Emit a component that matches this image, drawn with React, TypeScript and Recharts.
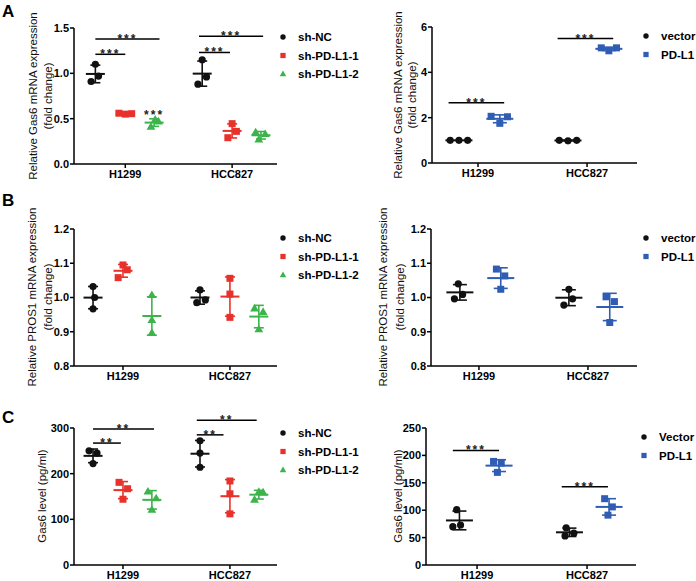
import React from 'react';
import { ScatterChart, Scatter, XAxis, YAxis, ErrorBar, ReferenceLine } from 'recharts';

const FONT = '"Liberation Sans", Arial, Helvetica, sans-serif';

const cells = ['H1299', 'HCC827'];
const knockNames = ['sh-NC', 'sh-PD-L1-1', 'sh-PD-L1-2'];
const overNames = ['vector', 'PD-L1'];
const overNamesC = ['Vector', 'PD-L1'];

const BLACK = '#111111';
const RED = '#e8312b';
const GREEN = '#3cb44b';
const BLUE = '#2f5db3';

// every group: [H1299 replicates, HCC827 replicates]
// A left - Gas6 mRNA after knockdown
const aShNC = [[1.10, 0.91, 0.97], [1.15, 0.88, 0.96]];
const aShL1 = [[0.56, 0.55, 0.555], [0.445, 0.29, 0.36]];
const aShL2 = [[0.49, 0.41, 0.47], [0.35, 0.27, 0.33]];
// A right - Gas6 mRNA after overexpression
const aVector = [[1.0, 1.0, 1.0], [1.0, 0.98, 1.0]];
const aPDL1 = [[2.06, 1.75, 2.04], [5.08, 4.95, 5.08]];
// B left - PROS1 mRNA after knockdown
const bShNC = [[1.032, 0.967, 1.0], [1.022, 0.985, 0.993]];
const bShL1 = [[1.095, 1.081, 1.058], [1.056, 1.01, 0.942]];
const bShL2 = [[1.007, 0.934, 0.897], [0.968, 0.958, 0.907]];
// B right - PROS1 mRNA after overexpression
const bVector = [[1.04, 1.009, 0.996], [1.024, 0.996, 0.978]];
const bPDL1 = [[1.083, 1.063, 1.024], [1.002, 0.988, 0.927]];
// C left - secreted Gas6 (pg/ml) after knockdown
const cShNC = [[250, 245, 222], [272, 245, 214]];
const cShL1 = [[181, 167, 144], [184, 156, 112]];
const cShL2 = [[161, 146, 121], [143, 160, 159]];
// C right - secreted Gas6 (pg/ml) after overexpression
const cVector = [[101, 70, 73], [68, 53, 58]];
const cPDL1 = [[189, 186, 169], [121, 106, 91]];

// horizontal scatter of replicates (x units)
const aShNCx = [[0, -0.04, 0.03], [0, -0.04, 0.04]];
const aShL1x = [[-0.06, 0, 0.06], [0, -0.04, 0.04]];
const aShL2x = [[0.01, -0.03, 0.04], [-0.05, -0.02, 0.04]];
const aVectorx = [[-0.08, 0, 0.08], [-0.08, 0, 0.08]];
const aPDL1x = [[-0.08, 0, 0.07], [-0.07, 0, 0.07]];
const bShNCx = [[0, 0, 0.015], [0, -0.03, 0.05]];
const bShL1x = [[0, 0.04, -0.045], [0, 0, 0]];
const bShL2x = [[0, 0, 0], [-0.04, 0.04, 0]];
const bVectorx = [[-0.015, 0.025, -0.05], [0, 0.034, -0.046]];
const bPDL1x = [[-0.04, 0.037, 0], [-0.034, 0.043, 0]];
const cShNCx = [[-0.037, 0.037, 0], [0, 0, 0]];
const cShL1x = [[-0.037, 0.043, 0], [0, 0, 0]];
const cShL2x = [[-0.037, 0.04, 0], [-0.04, 0, 0.04]];
const cVectorx = [[-0.025, -0.06, 0.01], [-0.03, -0.04, 0.04]];
const cPDL1x = [[-0.05, 0.02, -0.015], [-0.04, 0.03, -0.01]];

// significance bars: [x from, x to, y]
const aLeftBars = [[0.72, 1.0, 1.21], [0.72, 1.32, 1.38], [1.69, 1.98, 1.23], [1.69, 2.29, 1.41]];
const aRightBars = [[0.73, 1.24, 2.66], [1.73, 2.24, 5.49]];
const cLeftBars = [[0.72, 0.98, 267], [0.72, 1.29, 298], [1.69, 1.94, 285], [1.69, 2.25, 317]];
const cRightBars = [[0.78, 1.2, 209], [1.77, 2.19, 143]];

const aTicks = [0, 0.5, 1.0, 1.5];
const aRightTicks = [0, 2, 4, 6];
const bTicks = [0.8, 0.9, 1.0, 1.1, 1.2];
const cTicks = [0, 100, 200, 300];
const cRightTicks = [0, 50, 100, 150, 200, 250];

type Shape = 'circle' | 'square' | 'triangle';
type Group = { color: string; shape: Shape; offset: number; values: number[][]; spread: number[][] };

const YW = 50;
const MT = 30;
const MR = 5;
const XH = 30;

const marker = (shape: Shape, color: string, cx: number, cy: number, s = 1) => {
  if (shape === 'circle') return <circle cx={cx} cy={cy} r={3.6 * s} fill={color} />;
  if (shape === 'square') return <rect x={cx - 3.5 * s} y={cy - 3.5 * s} width={7 * s} height={7 * s} fill={color} />;
  return (
    <polygon
      points={`${cx},${cy - 4.6 * s} ${cx - 4.4 * s},${cy + 3 * s} ${cx + 4.4 * s},${cy + 3 * s}`}
      fill={color}
    />
  );
};

const mean = (v: number[]) => v.reduce((a, b) => a + b, 0) / v.length;
const sd = (v: number[]) => {
  const m = mean(v);
  return Math.sqrt(v.reduce((a, b) => a + (b - m) * (b - m), 0) / (v.length - 1));
};

type PanelProps = {
  box: [number, number, number, number];
  xDomain: [number, number];
  yDomain: [number, number];
  yTicks: number[];
  decimals: number;
  groups: Group[];
  bars?: number[][];
  mark?: string;
  stars?: number[][];
  meanW: number;
  capW: number;
};

const Panel = ({ box, xDomain, yDomain, yTicks, decimals, groups, bars = [], mark = '***', stars = [], meanW, capW }: PanelProps) => {
  const [l, t, r, b] = box;
  const tickStyle = { fontSize: 11, fontWeight: 'bold', fill: '#000', fontFamily: FONT };
  const axisLine = { stroke: '#000', strokeWidth: 1.5 };
  const starLabel = (value: string) => ({
    value,
    position: 'top' as const,
    offset: -4,
    fontSize: 12,
    fontWeight: 'bold',
    fill: '#222',
    letterSpacing: 2,
  });
  return (
    <div style={{ position: 'absolute', left: l - YW, top: t - MT }}>
      <ScatterChart width={r - l + YW + MR} height={b - t + MT + XH} margin={{ top: MT, right: MR, bottom: 0, left: 0 }}>
        <XAxis
          type="number"
          dataKey="x"
          domain={xDomain}
          allowDataOverflow
          ticks={[1, 2]}
          tickFormatter={(v: number) => cells[v - 1]}
          height={XH}
          tick={tickStyle}
          tickSize={4}
          tickLine={axisLine}
          axisLine={axisLine}
        />
        <YAxis
          type="number"
          dataKey="y"
          domain={yDomain}
          allowDataOverflow
          ticks={yTicks}
          tickFormatter={(v: number) => v.toFixed(decimals)}
          width={YW}
          tick={tickStyle}
          tickSize={4}
          tickMargin={1}
          tickLine={axisLine}
          axisLine={axisLine}
        />
        {bars.map(([x1, x2, y], i) => (
          <ReferenceLine
            key={'bar' + i}
            segment={[{ x: x1, y }, { x: x2, y }]}
            stroke="#000"
            strokeWidth={1.5}
            ifOverflow="visible"
            label={starLabel(mark)}
          />
        ))}
        {stars.map(([x, y], i) => (
          <ReferenceLine
            key={'star' + i}
            segment={[{ x: x - 0.05, y }, { x: x + 0.05, y }]}
            stroke="none"
            ifOverflow="visible"
            label={starLabel('***')}
          />
        ))}
        {groups.map((g, gi) => (
          <Scatter
            key={'sum' + gi}
            data={g.values.map((v, ci) => ({ x: ci + 1 + g.offset, y: mean(v), e: sd(v) }))}
            isAnimationActive={false}
            shape={(p: any) => (
              <line x1={p.cx - meanW / 2} x2={p.cx + meanW / 2} y1={p.cy} y2={p.cy} stroke={g.color} strokeWidth={2} />
            )}
          >
            <ErrorBar dataKey="e" direction="y" width={capW} stroke={g.color} strokeWidth={1.6} />
          </Scatter>
        ))}
        {groups.map((g, gi) => (
          <Scatter
            key={'pts' + gi}
            data={g.values.flatMap((v, ci) => v.map((y, k) => ({ x: ci + 1 + g.offset + g.spread[ci][k], y })))}
            isAnimationActive={false}
            shape={(p: any) => marker(g.shape, g.color, p.cx, p.cy)}
          />
        ))}
      </ScatterChart>
    </div>
  );
};

const knockGroups = (nc: number[][], l1: number[][], l2: number[][], ncx: number[][], l1x: number[][], l2x: number[][]): Group[] => [
  { color: BLACK, shape: 'circle', offset: -0.28, values: nc, spread: ncx },
  { color: RED, shape: 'square', offset: 0, values: l1, spread: l1x },
  { color: GREEN, shape: 'triangle', offset: 0.27, values: l2, spread: l2x },
];
const overGroups = (v: number[][], p: number[][], vx: number[][], px: number[][], off: number): Group[] => [
  { color: BLACK, shape: 'circle', offset: off, values: v, spread: vx },
  { color: BLUE, shape: 'square', offset: 0.2, values: p, spread: px },
];

const Legend = ({ x, y, names, colors, shapes }: { x: number; y: number; names: string[]; colors: string[]; shapes: Shape[] }) => (
  <g>
    {names.map((n, i) => (
      <g key={n}>
        {marker(shapes[i], colors[i], x, y + i * 18.5, 0.75)}
        <text x={x + 15} y={y + i * 18.5} dominantBaseline="central" fontSize={11.5} fontWeight="bold" fill="#000">
          {n}
        </text>
      </g>
    ))}
  </g>
);

const YTitle = ({ x, y, text }: { x: number; y: number; text: string }) => (
  <text transform={`translate(${x},${y}) rotate(-90)`} textAnchor="middle" dominantBaseline="central" fontSize={11.5} fill="#111">
    {text}
  </text>
);

const knockColors = [BLACK, RED, GREEN];
const knockShapes: Shape[] = ['circle', 'square', 'triangle'];
const overColors = [BLACK, BLUE];
const overShapes: Shape[] = ['circle', 'square'];

export default function App() {
  return (
    <div style={{ position: 'absolute', left: 0, top: 0, width: 696, height: 581, background: '#fff', fontFamily: FONT, overflow: 'hidden' }}>
      <Panel
        box={[74, 28, 277, 164]}
        xDomain={[0.52, 2.42]}
        yDomain={[0, 1.5]}
        yTicks={aTicks}
        decimals={1}
        groups={knockGroups(aShNC, aShL1, aShL2, aShNCx, aShL1x, aShL2x)}
        bars={aLeftBars}
        stars={[[1.27, 0.535]]}
        meanW={19}
        capW={5}
      />
      <Panel
        box={[432, 27, 637, 163]}
        xDomain={[0.578, 2.458]}
        yDomain={[0, 6]}
        yTicks={aRightTicks}
        decimals={0}
        groups={overGroups(aVector, aPDL1, aVectorx, aPDL1x, -0.175)}
        bars={aRightBars}
        meanW={27}
        capW={7}
      />
      <Panel
        box={[74, 229, 277, 366]}
        xDomain={[0.542, 2.44]}
        yDomain={[0.8, 1.2]}
        yTicks={bTicks}
        decimals={1}
        groups={knockGroups(bShNC, bShL1, bShL2, bShNCx, bShL1x, bShL2x)}
        meanW={19}
        capW={5}
      />
      <Panel
        box={[431, 229, 637, 366]}
        xDomain={[0.56, 2.45]}
        yDomain={[0.8, 1.2]}
        yTicks={bTicks}
        decimals={1}
        groups={overGroups(bVector, bPDL1, bVectorx, bPDL1x, -0.175)}
        meanW={27}
        capW={7}
      />
      <Panel
        box={[74, 428, 277, 565]}
        xDomain={[0.542, 2.44]}
        yDomain={[0, 300]}
        yTicks={cTicks}
        decimals={0}
        groups={knockGroups(cShNC, cShL1, cShL2, cShNCx, cShL1x, cShL2x)}
        bars={cLeftBars}
        mark="**"
        meanW={19}
        capW={5}
      />
      <Panel
        box={[426, 428, 636, 565]}
        xDomain={[0.536, 2.445]}
        yDomain={[0, 250]}
        yTicks={cRightTicks}
        decimals={0}
        groups={overGroups(cVector, cPDL1, cVectorx, cPDL1x, -0.16)}
        bars={cRightBars}
        meanW={27}
        capW={7}
      />
      <svg width={696} height={581} style={{ position: 'absolute', left: 0, top: 0, pointerEvents: 'none', fontFamily: FONT }}>
        <text x={2} y={17} fontSize={17} fontWeight="bold">A</text>
        <text x={2} y={206} fontSize={17} fontWeight="bold">B</text>
        <text x={2} y={423} fontSize={17} fontWeight="bold">C</text>

        <YTitle x={33} y={96} text="Relative Gas6 mRNA expression" />
        <YTitle x={48} y={96} text="(fold change)" />
        <YTitle x={398} y={95} text="Relative Gas6 mRNA expression" />
        <YTitle x={412} y={95} text="(fold change)" />
        <YTitle x={32} y={297} text="Relative PROS1 mRNA expression" />
        <YTitle x={48} y={297} text="(fold change)" />
        <YTitle x={383} y={297} text="Relative PROS1 mRNA expression" />
        <YTitle x={400} y={297} text="(fold change)" />
        <YTitle x={42} y={496} text="Gas6 level (pg/ml)" />
        <YTitle x={398} y={496} text="Gas6 level (pg/ml)" />

        <Legend x={283} y={37} names={knockNames} colors={knockColors} shapes={knockShapes} />
        <Legend x={646} y={36} names={overNames} colors={overColors} shapes={overShapes} />
        <Legend x={283} y={238} names={knockNames} colors={knockColors} shapes={knockShapes} />
        <Legend x={646} y={238} names={overNames} colors={overColors} shapes={overShapes} />
        <Legend x={283} y={433} names={knockNames} colors={knockColors} shapes={knockShapes} />
        <Legend x={644} y={437} names={overNamesC} colors={overColors} shapes={overShapes} />
      </svg>
    </div>
  );
}
